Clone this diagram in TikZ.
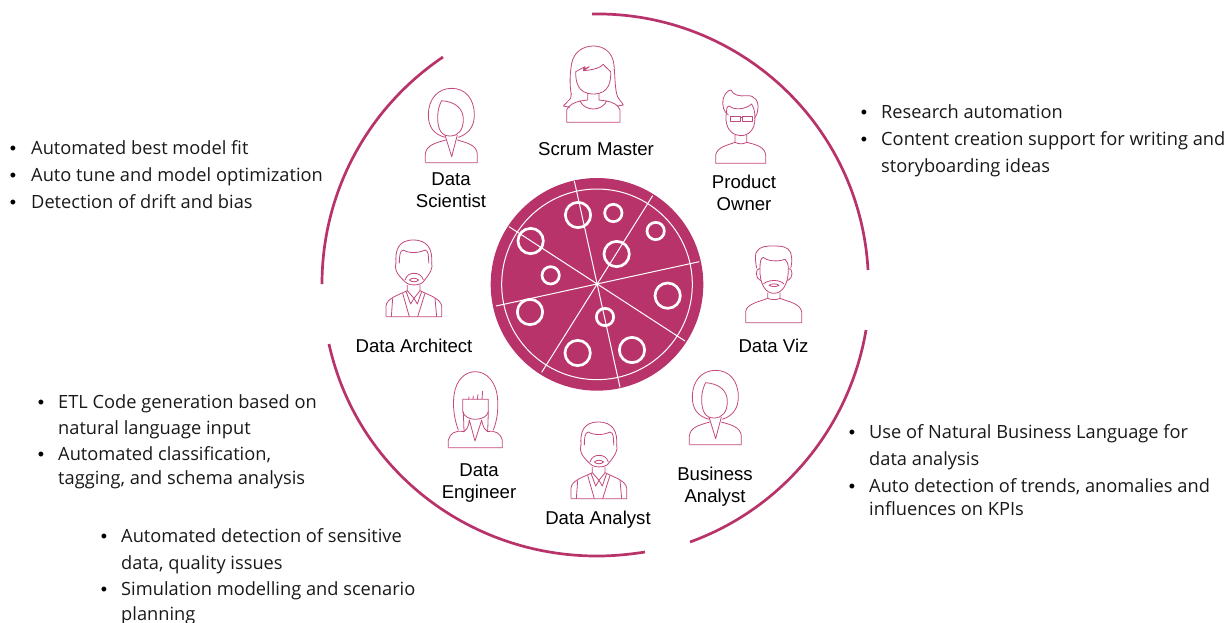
\documentclass[tikz,border=0pt]{standalone}
\usepackage{fontspec}
\setmainfont{Open Sans}
\newfontfamily\lblfont{Liberation Sans}
\definecolor{plum}{HTML}{B8336A}
\definecolor{iconc}{HTML}{C2487E}
\tikzset{
  ringarc/.style={draw=plum,line width=2.7pt},
  iconline/.style={draw=iconc,line width=0.8pt,line join=round},
  bodytext/.style={anchor=base west,inner sep=0pt,font=\fontsize{18.25}{20}\selectfont,text=black!90},
  bullet/.style={anchor=base,inner sep=0pt,font=\lblfont\fontsize{18}{20}\selectfont,text=black},
  rolelabel/.style={align=center,inner sep=0pt,font=\lblfont\fontsize{18.6}{22}\selectfont,text=black},
  pizzaline/.style={draw=white,line width=1pt},
  pizzaring/.style={draw=white,line width=2.7pt},
  womana/.pic={
    \draw[iconline] (135,322) .. controls (100,312) and (85,290) .. (85,255) .. controls (85,205) and (115,175) .. (155,175) .. controls (195,175) and (223,205) .. (223,255) .. controls (223,290) and (205,312) .. (175,322);
    \draw[iconline] (125,212) .. controls (165,215) and (190,235) .. (190,268) .. controls (190,300) and (175,318) .. (150,318) .. controls (125,318) and (113,300) .. (113,262) .. controls (113,240) and (118,225) .. (125,212) -- cycle;
    \draw[iconline] (135,315) -- (155,380) -- (172,315);
    \draw[iconline] (76,398) -- (76,372) .. controls (78,345) and (110,338) .. (137,330);
    \draw[iconline] (172,330) .. controls (200,338) and (230,345) .. (232,372) -- (232,398) -- (76,398);
  },
  womanb/.pic={
    \draw[iconline] (527,125) .. controls (527,150) and (530,192) .. (580,192) .. controls (630,192) and (633,150) .. (632,125) .. controls (625,118) and (615,110) .. (610,103) .. controls (600,115) and (575,120) .. (550,122) -- (568,110) -- (550,118) -- (555,110) -- (527,125);
    \draw[iconline] (514,195) .. controls (508,160) and (510,130) .. (515,100) .. controls (522,65) and (550,48) .. (580,48) .. controls (610,48) and (638,65) .. (642,105) .. controls (645,140) and (645,170) .. (650,192) .. controls (652,205) and (665,215) .. (670,225) -- (652,228);
    \draw[iconline] (514,190) -- (512,205) -- (490,228) -- (510,232);
    \draw[iconline] (563,190) -- (563,210) -- (540,213) .. controls (555,245) and (605,245) .. (620,213) -- (597,210) -- (597,190);
    \draw[iconline] (500,277) -- (500,240) .. controls (505,225) and (525,217) .. (540,213);
    \draw[iconline] (620,213) .. controls (640,217) and (655,225) .. (660,240) -- (660,277) -- (500,277);
  },
  manglasses/.pic={
    \draw[iconline] (85,105) .. controls (72,95) and (65,80) .. (70,55) .. controls (75,40) and (85,30) .. (93,30) .. controls (98,45) and (120,50) .. (140,47) .. controls (165,45) and (178,65) .. (173,90) .. controls (172,102) and (168,108) .. (163,115);
    \draw[iconline] (80,90) .. controls (80,80) and (85,78) .. (88,78) .. controls (100,90) and (135,90) .. (155,72) .. controls (162,85) and (165,95) .. (165,115) .. controls (165,150) and (145,167) .. (122,167) .. controls (100,167) and (80,150) .. (78,120) .. controls (78,110) and (78,100) .. (80,90);
    \draw[iconline] (91,108) rectangle (120,125);
    \draw[iconline] (128,108) rectangle (156,125);
    \draw[iconline] (120,113) -- (128,113);
    \draw[iconline] (105,165) -- (105,187) .. controls (118,193) and (128,193) .. (140,187) -- (140,165);
    \draw[iconline] (47,250) -- (47,225) .. controls (52,200) and (85,195) .. (105,187);
    \draw[iconline] (140,187) .. controls (165,193) and (195,200) .. (197,225) -- (197,250) -- (47,250);
  },
  manbeard/.pic={
    \draw[iconline] (170,565) .. controls (165,540) and (165,520) .. (170,515) .. controls (180,498) and (200,498) .. (220,498) .. controls (245,498) and (265,500) .. (272,518) .. controls (277,535) and (276,550) .. (272,565);
    \draw[iconline] (180,565) .. controls (180,545) and (182,535) .. (190,532) .. controls (205,545) and (235,545) .. (255,538) .. controls (262,545) and (265,550) .. (265,570) .. controls (265,615) and (245,640) .. (222,640) .. controls (198,640) and (178,615) .. (180,565);
    \draw[iconline] (180,565) .. controls (165,565) and (165,595) .. (182,602);
    \draw[iconline] (265,565) .. controls (280,565) and (280,595) .. (263,602);
    \draw[iconline] (190,612) .. controls (205,598) and (240,598) .. (252,612);
    \draw[iconline] (207,616) .. controls (215,610) and (230,610) .. (237,616) .. controls (230,621) and (215,621) .. (207,616) -- cycle;
    \draw[iconline] (203,638) -- (203,655) .. controls (215,660) and (230,660) .. (240,655) -- (240,638);
    \draw[iconline] (137,728) -- (137,695) .. controls (140,670) and (180,665) .. (203,655);
    \draw[iconline] (240,655) .. controls (265,665) and (300,670) .. (305,695) -- (305,728) -- (137,728);
  },
  mansuit/.pic={
    \draw[iconline] (78,100) .. controls (75,60) and (85,30) .. (130,30) .. controls (175,30) and (188,60) .. (185,100);
    \draw[iconline] (88,100) .. controls (88,75) and (90,62) .. (100,60) .. controls (115,70) and (145,70) .. (165,60) .. controls (175,62) and (176,75) .. (176,100);
    \draw[iconline] (78,98) .. controls (72,115) and (78,130) .. (105,155) .. controls (115,168) and (150,168) .. (160,155) .. controls (180,130) and (190,115) .. (185,98);
    \draw[iconline] (105,150) .. controls (110,135) and (120,130) .. (132,130) .. controls (145,130) and (155,135) .. (160,150);
    \draw[iconline] (118,150) .. controls (125,143) and (138,143) .. (146,150) .. controls (138,157) and (125,157) .. (118,150) -- cycle;
    \draw[iconline] (112,165) -- (112,182) -- (132,205) -- (150,182) -- (150,165);
    \draw[iconline] (108,184) -- (122,222) -- (132,205) -- (142,222) -- (155,184);
    \draw[iconline] (98,190) -- (118,260);
    \draw[iconline] (165,190) -- (143,260);
    \draw[iconline] (68,205) -- (64,260);
    \draw[iconline] (195,205) -- (200,260);
    \draw[iconline] (48,260) -- (48,228) .. controls (50,205) and (85,195) .. (112,182);
    \draw[iconline] (150,182) .. controls (175,195) and (212,205) .. (215,228) -- (215,260) -- (48,260);
  },
  womanc/.pic={
    \draw[iconline] (68,103) -- (68,140) .. controls (72,155) and (90,163) .. (105,163) .. controls (125,163) and (142,155) .. (145,140) -- (145,103) -- (68,103);
    \draw[iconline] (86,103) -- (87,95);
    \draw[iconline] (99,103) -- (100,92);
    \draw[iconline] (112,103) -- (114,88);
    \draw[iconline] (126,103) -- (128,78);
    \draw[iconline] (55,195) .. controls (42,160) and (38,125) .. (42,90) .. controls (48,45) and (75,20) .. (105,20) .. controls (140,20) and (170,50) .. (173,105) .. controls (175,140) and (170,170) .. (160,195);
    \draw[iconline] (70,140) -- (72,200) .. controls (78,195) and (85,190) .. (88,165) -- (105,228) -- (125,165) .. controls (130,190) and (135,195) .. (143,200) -- (145,140);
    \draw[iconline] (25,248) -- (25,225) .. controls (30,205) and (45,195) .. (72,200);
    \draw[iconline] (143,200) .. controls (165,195) and (182,205) .. (187,225) -- (187,248) -- (25,248);
  },
}
\begin{document}
\begin{tikzpicture}[x=1pt,y=-1pt]
\useasboundingbox (0,0) rectangle (1228,622);
% outer arcs
\draw[ringarc] (592,14) .. controls (738,11.3) and (860,124.3) .. (868,270);
\draw[ringarc] (443,57) .. controls (367.2,108.2) and (322,192.6) .. (322,284);
\draw[ringarc] (329,344) .. controls (356.6,469.6) and (468.4,556) .. (597,556) .. controls (613,556) and (629,554.5) .. (645,552);
\draw[ringarc] (690,542) .. controls (782.8,508.4) and (849.7,427.1) .. (866,330);
% pizza
\begin{scope}[shift={(480,180)},scale=1/3]
\fill[plum] (351,313) circle (319);
\draw[pizzaline] (351,313) circle (286);
\draw[pizzaline] (283,3) -- (420,622);
\draw[pizzaline] (518,47) -- (185,577);
\draw[pizzaline] (658,245) -- (48,378);
\draw[pizzaline] (87,140) -- (615,483);
\foreach \px/\py/\pr in {294/105/38,400/99/26,527/153/26,410/222/38,152/183/38,212/286/26,150/396/38,563/347/38,375/411/26,456/510/38,293/519/38}
  \draw[pizzaring] (\px,\py) circle (\pr);
\end{scope}
% people
\pic[scale=1/3] at (400,30) {womana};
\pic[scale=1/3] at (664,312) {womana};
\pic[scale=1/3] at (400,30) {womanb};
\pic[scale=1/3] at (700,80) {manglasses};
\pic[scale=1/3] at (700,80) {manbeard};
\pic[scale=1/3] at (370,230) {mansuit};
\pic[scale=1/3] at (555,412) {mansuit};
\pic[scale=1/3] at (440,365) {womanc};
% role labels
\node[rolelabel] (scrum) at (596,149) {Scrum Master};
\node[rolelabel] (po) at (744,193) {Product\\Owner};
\node[rolelabel] (ds) at (451,190) {Data\\Scientist};
\node[rolelabel] (viz) at (773.5,345.5) {Data Viz};
\node[rolelabel] (arch) at (414,345.5) {Data Architect};
\node[rolelabel] (eng) at (479,483.5) {Data\\Engineer};
\node[rolelabel] (ana) at (598,520) {Data Analyst};
\node[rolelabel] (ba) at (715,487) {Business\\Analyst};
% bullets
\node[bullet] (b1a) at (13,154) {•}; \node[bodytext] (t1a) at (31,154) {Automated best model fit};
\node[bullet] (b1b) at (13,181) {•}; \node[bodytext] (t1b) at (31,181) {Auto tune and model optimization};
\node[bullet] (b1c) at (13,208) {•}; \node[bodytext] (t1c) at (31,208) {Detection of drift and bias};
\node[bullet] (b2a) at (864,118.5) {•}; \node[bodytext] (t2a) at (881,118.5) {Research automation};
\node[bullet] (b2b) at (864,145.5) {•}; \node[bodytext] (t2b) at (881,145.5) {Content creation support for writing and};
\node[bodytext] (t2c) at (881,172.5) {storyboarding ideas};
\node[bullet] (b3a) at (41,408) {•}; \node[bodytext] (t3a) at (58,408) {ETL Code generation based on};
\node[bodytext] (t3b) at (58,434.5) {natural language input};
\node[bullet] (b3c) at (41,460.5) {•}; \node[bodytext] (t3c) at (58,460.5) {Automated classification,};
\node[bodytext] (t3d) at (58,484.5) {tagging, and schema analysis};
\node[bullet] (b4a) at (104,542.5) {•}; \node[bodytext] (t4a) at (121,542.5) {Automated detection of sensitive};
\node[bodytext] (t4b) at (121,569.5) {data, quality issues};
\node[bullet] (b4c) at (104,595.5) {•}; \node[bodytext] (t4c) at (121,595.5) {Simulation modelling and scenario};
\node[bodytext] (t4d) at (121,620.5) {planning};
\node[bullet] (b5a) at (852,438.5) {•}; \node[bodytext] (t5a) at (869,438.5) {Use of Natural Business Language for};
\node[bodytext] (t5b) at (869,465.5) {data analysis};
\node[bullet] (b5c) at (852,492.5) {•}; \node[bodytext] (t5c) at (869,492.5) {Auto detection of trends, anomalies and};
\node[bodytext] (t5d) at (869,515.5) {influences on KPIs};
\end{tikzpicture}
\end{document}
